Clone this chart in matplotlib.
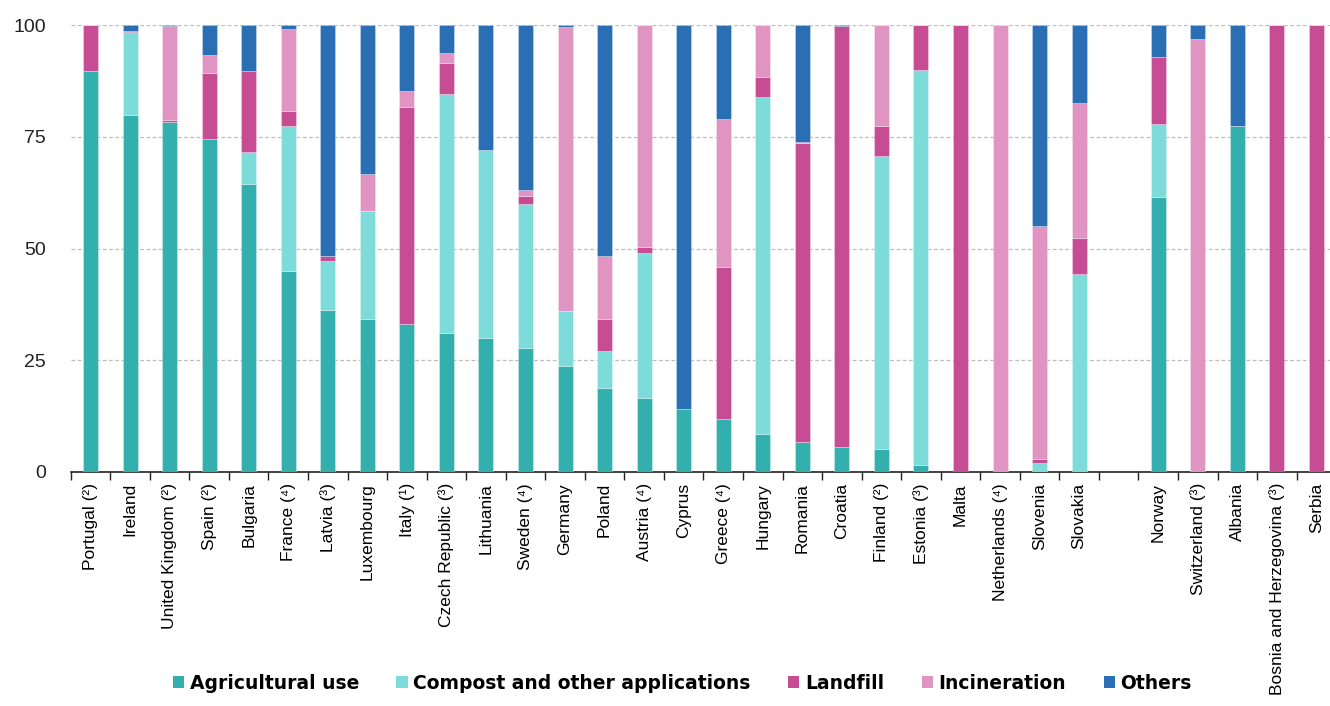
import matplotlib
matplotlib.use("Agg")
import matplotlib.pyplot as plt
import numpy as np

countries = ["Portugal (²)", "Ireland", "United Kingdom (²)", "Spain (²)", "Bulgaria",
             "France (⁴)", "Latvia (³)", "Luxembourg", "Italy (¹)", "Czech Republic (³)",
             "Lithuania", "Sweden (⁴)", "Germany", "Poland", "Austria (⁴)", "Cyprus",
             "Greece (⁴)", "Hungary", "Romania", "Croatia", "Finland (²)", "Estonia (³)",
             "Malta", "Netherlands (⁴)", "Slovenia", "Slovakia",
             "Norway", "Switzerland (³)", "Albania", "Bosnia and Herzegovina (³)", "Serbia"]

agricultural = [89.8, 79.9, 78.2, 74.6, 64.5, 45.0, 36.3, 34.3, 33.1, 31.2,
                30.0, 27.8, 23.7, 18.9, 16.5, 14.1, 11.8, 8.5, 6.8, 5.6, 5.1, 1.6,
                0.0, 0.0, 0.0, 0.0,
                61.6, 0.0, 77.3, 0.0, 0.0]
compost = [0.0, 18.6, 0.0, 0.0, 7.2, 32.4, 10.9, 24.1, 0.0, 53.3,
           42.0, 32.1, 12.3, 8.1, 32.5, 0.0, 0.0, 75.3, 0.0, 0.0, 65.6, 88.4,
           0.0, 0.0, 2.0, 44.2,
           16.2, 0.0, 0.0, 0.0, 0.0]
landfill = [10.2, 0.2, 0.6, 14.7, 18.1, 3.4, 1.2, 0.0, 48.5, 6.9,
            0.0, 1.9, 0.0, 7.3, 1.4, 0.0, 34.1, 4.6, 66.7, 94.2, 6.8, 10.0,
            100.0, 0.0, 0.8, 8.2,
            15.1, 0.0, 0.0, 100.0, 100.0]
incineration = [0.0, 0.0, 21.0, 3.9, 0.0, 18.2, 0.0, 8.2, 3.6, 2.3,
                0.0, 1.2, 63.6, 14.0, 49.6, 0.0, 33.1, 11.6, 0.3, 0.0, 22.5, 0.0,
                0.0, 100.0, 52.3, 30.2,
                0.0, 96.8, 0.0, 0.0, 0.0]
others = [0.0, 1.3, 0.2, 6.8, 10.2, 1.0, 51.6, 33.4, 14.8, 6.3,
          28.0, 37.0, 0.4, 51.7, 0.0, 85.9, 21.0, 0.0, 26.2, 0.2, 0.0, 0.0,
          0.0, 0.0, 44.9, 17.4,
          7.1, 3.2, 22.7, 0.0, 0.0]

series_names = ["Agricultural use", "Compost and other applications", "Landfill",
                "Incineration", "Others"]
colors = ["#33B0AE", "#7DDBD9", "#C64C94", "#E094C2", "#2A6EB4"]
y_ticks = [0, 25, 50, 75, 100]

# positions: gap between EU countries (first 26) and the rest
positions = list(range(26)) + list(range(27, 32))

fig = plt.figure(figsize=(13.3, 7.06), dpi=100)
W, H = 1330, 706
left_px, right_px = 70.7, 1336.2
top_px, bot_px = 25, 472
ax = fig.add_axes([left_px / W, (H - bot_px) / H, (right_px - left_px) / W, (bot_px - top_px) / H])

bottom = np.zeros(len(countries))
data = [agricultural, compost, landfill, incineration, others]
handles = []
for vals, name, col in zip(data, series_names, colors):
    vals = np.array(vals)
    b = ax.bar(positions, vals, width=0.38, bottom=bottom, color=col, label=name,
               edgecolor=(1, 1, 1, 0.5), linewidth=0.4, zorder=3)
    handles.append(b)
    bottom += vals

ax.set_xlim(-0.5, 31.5)
ax.set_ylim(0, 100)
ax.set_yticks(y_ticks)
ax.set_yticklabels([str(t) for t in y_ticks], fontsize=14, family="Liberation Sans", color="#222222")
ax.tick_params(axis="y", length=0, pad=18)
ax.yaxis.grid(True, linestyle=(0, (3, 2)), color="#bdbdbd", linewidth=0.9, zorder=0)
ax.set_axisbelow(True)

ax.set_xticks(positions)
ax.set_xticklabels(countries, rotation=90, fontsize=12.5, family="Liberation Sans",
                   va="top", ha="center")
ax.tick_params(axis="x", length=0, pad=8)
ax.set_xticks(np.arange(-0.5, 32, 1), minor=True)
ax.tick_params(axis="x", which="minor", length=6, width=1, color="#222222", direction="out")

for s in ["left", "right", "top"]:
    ax.spines[s].set_visible(False)
ax.spines["bottom"].set_color("#222222")
ax.spines["bottom"].set_linewidth(1.2)

leg = fig.legend(handles=handles, labels=series_names, loc="center",
                 bbox_to_anchor=(0.513, 0.032), ncol=5, frameon=False,
                 handlelength=0.6, handleheight=0.6, handletextpad=0.3,
                 columnspacing=2.0,
                 prop={"family": "DejaVu Sans", "weight": "bold", "size": 13.5})
for h in leg.legend_handles:
    h.set_edgecolor("none")

fig.savefig("out.png", dpi=100)
